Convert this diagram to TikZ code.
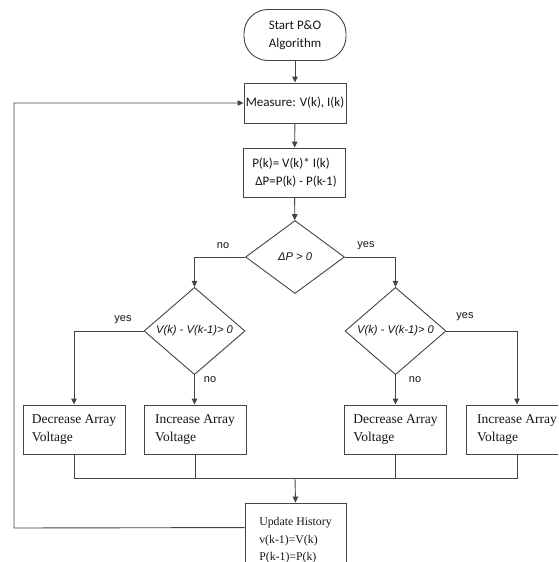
\documentclass[tikz,border=0pt]{standalone}
\usepackage{fontspec}
\setmainfont{Liberation Serif}
\newfontfamily\calfont{Carlito}
\newfontfamily\arialfont{Liberation Sans}
\usetikzlibrary{shapes.geometric,arrows.meta}
\definecolor{linec}{HTML}{444444}
\definecolor{txtc}{HTML}{15151F}
\begin{document}
\begin{tikzpicture}[x=1pt,y=-1pt,
  ln/.style={draw=linec,line width=0.9pt},
  arr/.style={ln,-{Triangle[length=6pt,width=5.5pt]}},
  topbox/.style={draw=linec,line width=0.9pt,rectangle,minimum width=102pt,inner sep=1pt,
    text=txtc,font=\calfont\fontsize{13}{18}\selectfont,align=left},
  startbox/.style={topbox,rounded corners=24pt,minimum height=51pt,align=center},
  decbox/.style={draw=linec,line width=0.9pt,diamond,minimum width=99pt,minimum height=73pt,inner sep=0pt,
    text=txtc,font=\arialfont\itshape\fontsize{11.2}{13}\selectfont},
  actbox/.style={draw=linec,line width=0.9pt,rectangle,minimum width=102pt,minimum height=49pt,inner sep=1pt,
    text=txtc,font=\fontsize{13.5}{18}\selectfont,align=left},
  updbox/.style={draw=linec,line width=0.9pt,rectangle,minimum width=101pt,minimum height=75pt,inner sep=1pt,
    text=txtc,font=\fontsize{11.8}{17.5}\selectfont,align=left},
  lbl/.style={text=txtc,font=\arialfont\fontsize{11}{13}\selectfont,inner sep=0pt}
]
\useasboundingbox (0,0) rectangle (558,562);
\clip (0,0) rectangle (558,562);
\fill[white] (0,0) rectangle (558,562);

\node[startbox] (start) at (295,35) {Start P\&O\\Algorithm};
\node[topbox,minimum height=40pt] (meas) at (295,103) {Measure: V(k), I(k)};
\node[topbox,minimum height=49pt] (pk) at (294.5,172.5) {P(k)= V(k)* I(k)\\\hspace*{3pt}ΔP=P(k) - P(k-1)};
\node[decbox] (d1) at (295,257) {ΔP > 0};
\node[decbox,minimum width=101pt] (d2) at (194.5,331) {V(k) - V(k-1)> 0};
\node[decbox,minimum width=101pt] (d3) at (395.5,331) {V(k) - V(k-1)> 0};
\node[actbox] (dl) at (74,429.5) {Decrease Array\\Voltage};
\node[actbox] (il) at (195,429.5) {Increase Array\\Voltage};
\node[actbox] (dr) at (395.5,429.5) {Decrease Array\\Voltage};
\node[actbox] (ir) at (517,429.5) {Increase Array\\Voltage};
\node[updbox] (upd) at (295.5,540.5) {Update History\\v(k-1)=V(k)\\P(k-1)=P(k)};

\coordinate (m) at (295,478);
\coordinate (fb) at (14,528);

\draw[arr] (start) -- (meas);
\draw[arr] (meas) -- (pk);
\draw[arr] (pk) -- (d1);
\draw[arr] (d1.west) -| (d2.north);
\draw[arr] (d1.east) -| (d3.north);
\draw[arr] (d2.west) -| (dl.north);
\draw[arr] (d2.south) -- (d2.south |- il.north);
\draw[arr] (d3.south) -- (d3.south |- dr.north);
\draw[arr] (d3.east) -| (ir.north);

\draw[ln] (dl.south) |- (ir.south |- m) -- (ir.south);
\draw[ln] (il.south) -- (il.south |- m);
\draw[ln] (dr.south) -- (dr.south |- m);
\draw[arr] (m) -- (upd.north);
\draw[arr] ([yshift=-25pt]upd.north west) -- (fb) |- (meas.west);

\node[lbl] at (223,246) {no};
\node[lbl] at (366,246) {yes};
\node[lbl] at (123,320) {yes};
\node[lbl] at (210,380) {no};
\node[lbl] at (465,317) {yes};
\node[lbl] at (415,380) {no};
\end{tikzpicture}
\end{document}
